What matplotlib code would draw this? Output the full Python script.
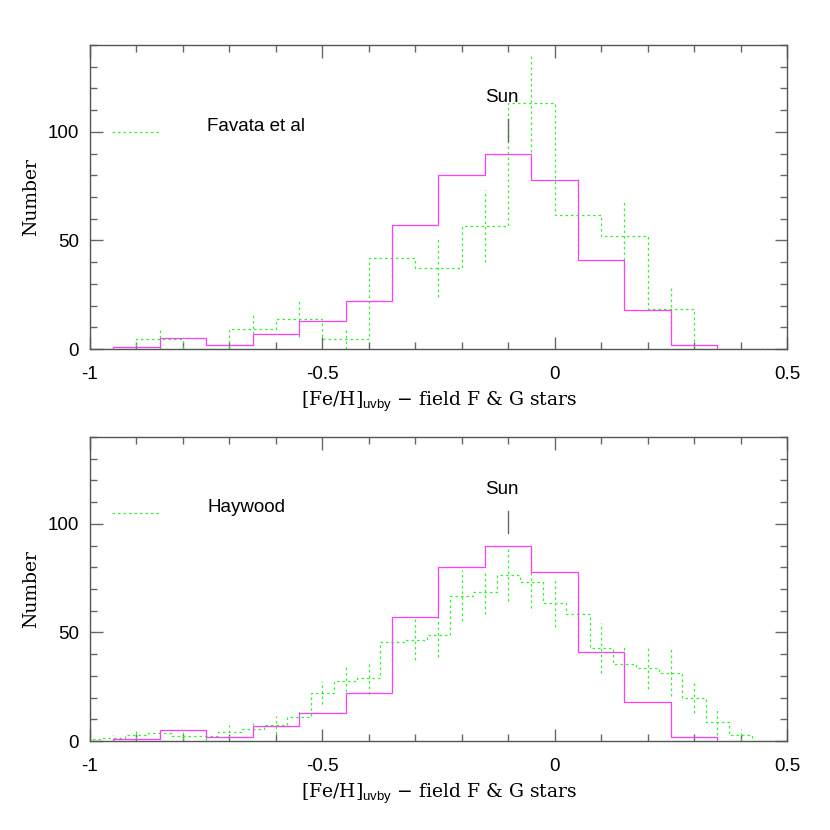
import numpy as np
import matplotlib.pyplot as plt
from matplotlib.ticker import MultipleLocator

plt.rcParams['axes.unicode_minus'] = False
plt.rcParams['mathtext.fontset'] = 'custom'
plt.rcParams['mathtext.sf'] = 'Liberation Sans'
plt.rcParams['mathtext.rm'] = 'DejaVu Serif'

# ----> Data <----
# solid histogram (same sample in both panels), 0.1 dex bins from -0.95
main_left = -0.95
main_counts = [1, 5, 2, 7, 13, 22, 57, 80, 90, 78, 41, 18, 2]

# Favata et al, 0.1 dex bins from -1.0
favata_left = -1.0
favata_counts = [0, 4.5, 0, 9, 14, 4.5, 42, 37.5, 56.5, 113.5, 61.5, 52, 18.5, 0, 0]
favata_err = [0, 4.5, 0, 7, 8.5, 4.5, 14, 13.5, 16.5, 23, 17, 16, 9.5, 0, 0]

# Haywood, 0.05 dex bins centred on -1.00 ... 0.45
haywood_left = -1.025
haywood_counts = [0.8, 1.5, 3, 3.5, 2.5, 2.5, 4.3, 5.5, 7.4, 10.9,
                  22.3, 27.7, 29.2, 45.7, 46.6, 48.8, 67, 68.6, 76.5, 73.2,
                  63.5, 58.6, 42.9, 35.4, 33.6, 31.5, 20, 8.9, 2.8, 0]
haywood_err = [1, 1.5, 2, 2, 2, 2, 3, 3, 4, 3.5,
               5.4, 7.2, 7.7, 9, 9.5, 10, 11.7, 10, 12, 11.8,
               10.9, 12.8, 11.5, 8.8, 9.5, 10.9, 7, 6, 2.7, 0]

sun_feh = -0.1
xtick_vals = [-1, -0.5, 0, 0.5]
xtick_labels = ['-1', '-0.5', '0', '0.5']
ytick_vals = [0, 50, 100]

MAGENTA = '#ff3cff'
GREEN = '#33f033'
GREY = '#666666'
DOTS = (0, (2.0, 2.4))


def bin_edges(left, width, n):
    return np.round(left + width * np.arange(n + 1), 4)


def draw_panel(ax, counts, err, left, width, name, legend_y):
    # solid sample
    e_main = bin_edges(main_left, 0.1, len(main_counts))
    ax.stairs(main_counts, e_main, baseline=0, color=MAGENTA, lw=0.9, zorder=3)

    # comparison sample, dotted with error bars
    edges = bin_edges(left, width, len(counts))
    ax.stairs(counts, edges, baseline=0, color=GREEN, lw=0.9,
              linestyle=DOTS, zorder=2)
    centres = 0.5 * (edges[:-1] + edges[1:])
    c = np.array(counts)
    e = np.array(err)
    has = e > 0
    ax.vlines(centres[has], c[has] - e[has], c[has] + e[has], color=GREEN,
              lw=0.9, linestyle=DOTS, zorder=2)

    # legend
    ax.plot([-0.952, -0.851], [legend_y, legend_y], color=GREEN, lw=0.9,
            linestyle=DOTS)
    ax.text(-0.748, legend_y + 2.5, name, ha='left', va='center',
            fontsize=13.5, family='Liberation Sans')

    # Sun marker
    ax.plot([sun_feh, sun_feh], [96, 106], color=GREY, lw=1.0)
    ax.text(sun_feh - 0.014, 116, 'Sun', ha='center', va='center',
            fontsize=13.5, family='Liberation Sans')

    ax.set_xlim(-1, 0.5)
    ax.set_ylim(0, 140)
    ax.set_xticks(xtick_vals)
    ax.set_xticklabels(xtick_labels)
    ax.set_yticks(ytick_vals)
    ax.xaxis.set_minor_locator(MultipleLocator(0.1))
    ax.yaxis.set_minor_locator(MultipleLocator(10))
    ax.tick_params(which='both', direction='in', top=True, right=True,
                   color=GREY, width=1.0)
    ax.tick_params(which='major', length=9)
    ax.tick_params(which='minor', length=5)
    ax.tick_params(axis='x', pad=12)
    ax.tick_params(axis='y', pad=8)
    for lab in ax.get_xticklabels() + ax.get_yticklabels():
        lab.set_family('Liberation Sans')
        lab.set_fontsize(13.5)
    for sp in ax.spines.values():
        sp.set_color('#555555')
        sp.set_linewidth(1.0)

    ax.set_xlabel('[Fe/H]$_{\\mathsf{uvby}}$ \u2212 field F & G stars',
                  family='DejaVu Serif', fontsize=13.5, labelpad=5)
    ax.set_ylabel('Number', family='DejaVu Serif', fontsize=13.5, labelpad=5)


fig = plt.figure(figsize=(8.3, 8.3), dpi=100)
ax1 = fig.add_axes([0.1084, 0.5795, 0.8398, 0.3663])
ax2 = fig.add_axes([0.1084, 0.1072, 0.8398, 0.3663])

draw_panel(ax1, favata_counts, favata_err, favata_left, 0.1, 'Favata et al', 100)
draw_panel(ax2, haywood_counts, haywood_err, haywood_left, 0.05, 'Haywood', 105)

fig.savefig('out.png', dpi=100)
